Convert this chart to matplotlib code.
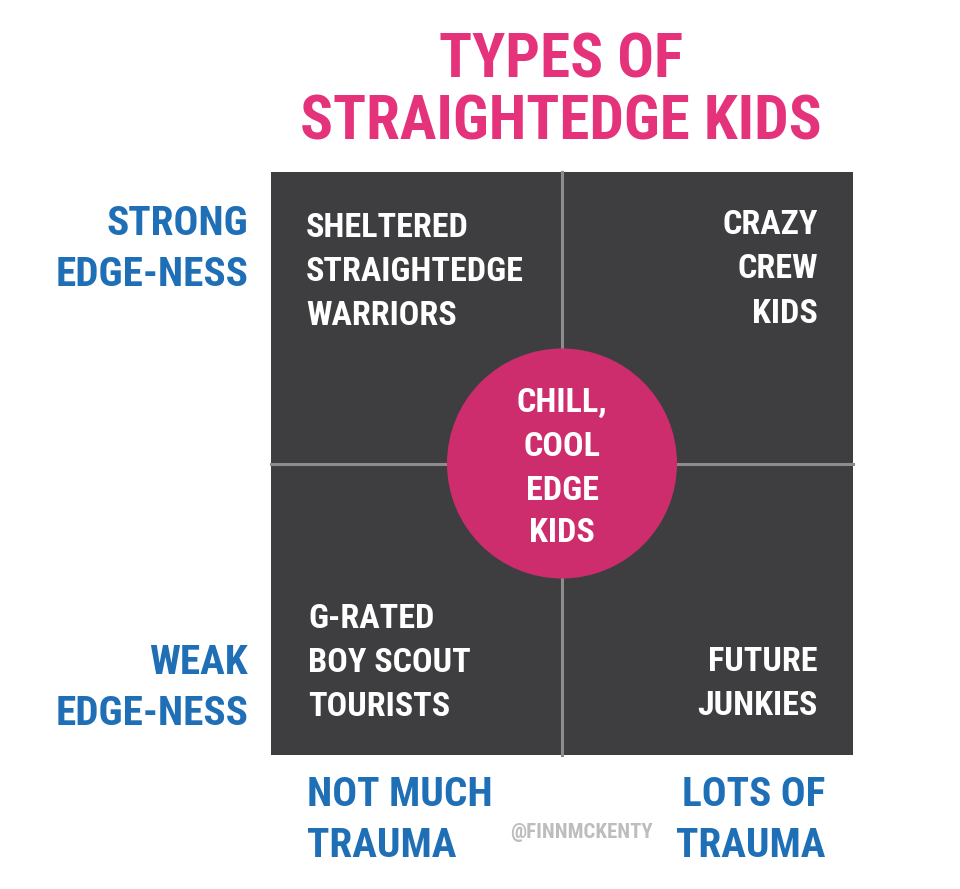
import matplotlib
matplotlib.use("Agg")
import matplotlib.pyplot as plt
from matplotlib.patches import Rectangle, Circle
from matplotlib import font_manager

# ---- data ----
title_lines = ["TYPES OF", "STRAIGHTEDGE KIDS"]
quad_top_left = ["SHELTERED", "STRAIGHTEDGE", "WARRIORS"]
quad_top_right = ["CRAZY", "CREW", "KIDS"]
quad_bottom_left = ["G-RATED", "BOY SCOUT", "TOURISTS"]
quad_bottom_right = ["FUTURE", "JUNKIES"]
center_label = ["CHILL,", "COOL", "EDGE", "KIDS"]
y_axis_labels = [["STRONG", "EDGE-NESS"], ["WEAK", "EDGE-NESS"]]
x_axis_labels = [["NOT MUCH", "TRAUMA"], ["LOTS OF", "TRAUMA"]]
credit = "@FINNMCKENTY"

# ---- font choice ----
names = {f.name for f in font_manager.fontManager.ttflist}
fam = "DejaVu Sans"
stretch = "normal"
for cand in ["Liberation Sans Narrow", "Roboto Condensed", "Open Sans Condensed"]:
    if cand in names:
        fam = cand
        break
else:
    if any(f.name == "DejaVu Sans" and "ondensed" in f.fname for f in font_manager.fontManager.ttflist):
        stretch = "condensed"
FONT = dict(family=[fam, "DejaVu Sans"], fontweight="bold", fontstretch=stretch)

PINK = "#e5337b"
CIRCLE = "#cd2d6d"
DARK = "#3e3e40"
BLUE = "#1f6fb6"
GRID = "#8c8c8c"
GREY = "#bdbdbd"

W, H = 960, 889
fig = plt.figure(figsize=(W / 100, H / 100), dpi=100)
ax = fig.add_axes([0, 0, 1, 1])
ax.set_xlim(0, W)
ax.set_ylim(H, 0)
ax.axis("off")
renderer = fig.canvas.get_renderer()


def fit_size(text, target_px, base=20):
    t = ax.text(0, 0, text, fontsize=base, **FONT)
    w = t.get_window_extent(renderer).width
    t.remove()
    return base * target_px / w


# square
x0, x1, y0, y1 = 271, 853, 172, 755
cx, cy = (x0 + x1) / 2, (y0 + y1) / 2
ax.add_patch(Rectangle((x0, y0), x1 - x0, y1 - y0, facecolor=DARK, edgecolor="none"))
ax.plot([cx, cx], [y0, y1], color=GRID, lw=2.2)
ax.plot([x0, x1], [cy, cy], color=GRID, lw=2.2)
ax.add_patch(Circle((cx, cy), 115, facecolor=CIRCLE, edgecolor="none", zorder=3))


def lines(txts, x, ys, ha, color, size, z=4):
    for t, y in zip(txts, ys):
        ax.text(x, y, t, ha=ha, va="center", color=color, fontsize=size, zorder=z, **FONT)


TS = fit_size(title_lines[1], 522)
QS = (fit_size(quad_top_left[1], 213) + fit_size(quad_bottom_left[1], 163)
      + fit_size(quad_bottom_right[1], 123)) / 3
AS = fit_size(y_axis_labels[0][1], 193)
CS = fit_size(credit, 142)

# title
lines(title_lines, 561, [61, 123], "center", PINK, TS)

# quadrants
lines(quad_top_left, 306, [228, 272, 316], "left", "white", QS)
lines(quad_top_right, 818, [225, 269, 314], "right", "white", QS)
lines(quad_bottom_left, 308, [619, 663, 707], "left", "white", QS)
lines(quad_bottom_right, 818, [662, 706], "right", "white", QS)
lines(center_label, cx, [403, 447, 491, 533], "center", "white", QS)

# axis labels
lines(y_axis_labels[0], 248, [224, 275], "right", BLUE, AS)
lines(y_axis_labels[1], 248, [663, 714], "right", BLUE, AS)
lines(x_axis_labels[0], 307, [795, 846], "left", BLUE, AS)
lines(x_axis_labels[1], 825, [795, 846], "right", BLUE, AS)

ax.text(581, 832, credit, ha="center", va="center", color=GREY, fontsize=CS, **FONT)

fig.savefig("out.png", dpi=100, facecolor="white")
